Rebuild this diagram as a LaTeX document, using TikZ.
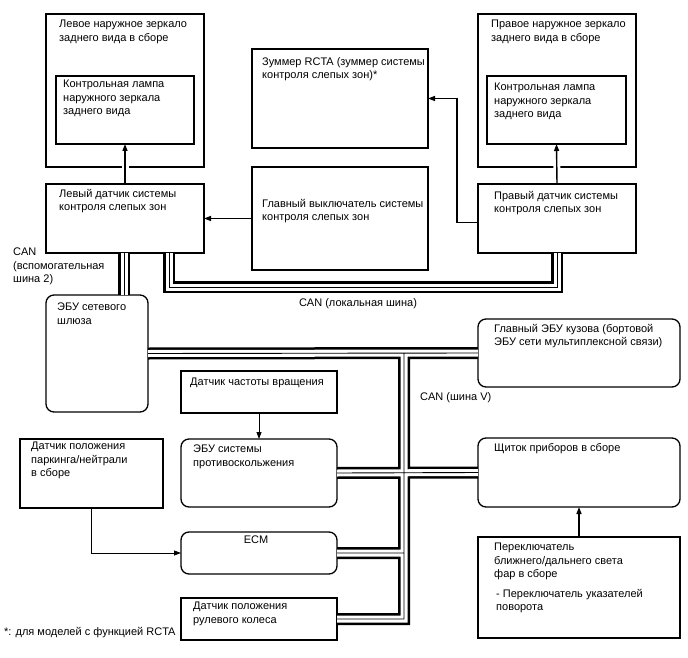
\documentclass[tikz,border=0pt]{standalone}
\usepackage{fontspec}
\setmainfont{Liberation Sans}
\usepackage{tikz}
\usetikzlibrary{arrows.meta,positioning,calc}
\tikzset{
    blk/.style={draw=black,line width=1.3pt,anchor=north west,inner sep=0pt,outer sep=0pt},
    rblk/.style={blk,rounded corners=8pt},
    txt/.style={anchor=north west,inner sep=0pt,align=left},
    sigarrow/.style={-{Triangle[length=7pt,width=5pt]},line width=1.4pt},
    thinarrow/.style={-{Triangle[length=7pt,width=5pt]},line width=0.8pt},
    gapped/.style={preaction={draw=white,-,line width=7pt,shorten <=4pt,shorten >=12pt}},
    canbus/.style={line width=0.9pt,preaction={draw,line width=12pt},
      preaction={draw=white,line width=7pt}}
}

\begin{document}
\begin{tikzpicture}[x=1pt,y=-1pt,font=\fontsize{11}{13.3}\selectfont]
  \useasboundingbox (0,0) rectangle (688,658);

  % top row
  \node[blk,minimum width=158,minimum height=153] (lmirror) at (46,14) {};
  \node[blk,minimum width=138,minimum height=68] (llamp) at (56,76) {};
  \node[blk,minimum width=158,minimum height=69] (lsensor) at (46,184) {};
  \node[blk,minimum width=176,minimum height=99] (buzzer) at (252,49) {};
  \node[blk,minimum width=176,minimum height=103] (switch) at (252,167) {};
  \node[blk,minimum width=158,minimum height=153] (rmirror) at (478,14) {};
  \node[blk,minimum width=139,minimum height=68] (rlamp) at (487,76) {};
  \node[blk,minimum width=158,minimum height=69] (rsensor) at (478,184) {};

  \node[txt] (lmirror-t) at (59,20) {Левое наружное зеркало\\заднего вида в сборе};
  \node[txt] (llamp-t) at (63,80) {Контрольная лампа\\наружного зеркала\\заднего вида};
  \node[txt] (lsensor-t) at (59,189) {Левый датчик системы\\контроля слепых зон};
  \node[txt] (buzzer-t) at (262,57) {Зуммер RCTA (зуммер системы\\контроля слепых зон)*};
  \node[txt] (switch-t) at (262,199) {Главный выключатель системы\\контроля слепых зон};
  \node[txt] (rmirror-t) at (491,20) {Правое наружное зеркало\\заднего вида в сборе};
  \node[txt] (rlamp-t) at (494,83) {Контрольная лампа\\наружного зеркала\\заднего вида};
  \node[txt] (rsensor-t) at (494,191) {Правый датчик системы\\контроля слепых зон};

  % lower part
  \node[rblk,minimum width=102,minimum height=117] (gateway) at (46,295) {};
  \node[rblk,minimum width=202,minimum height=68] (body) at (478,319) {};
  \node[blk,minimum width=156,minimum height=42] (speed) at (181,371) {};
  \node[rblk,minimum width=156,minimum height=68] (vsc) at (181,439) {};
  \node[rblk,minimum width=156,minimum height=42] (ecm) at (181,532) {};
  \node[blk,minimum width=156,minimum height=42] (steer) at (181,598) {};
  \node[blk,minimum width=143,minimum height=69] (park) at (20,439) {};
  \node[rblk,minimum width=202,minimum height=69] (cluster) at (478,438) {};
  \node[blk,minimum width=202,minimum height=101] (hlswitch) at (478,537) {};

  \node[txt] (gateway-t) at (57,303) {ЭБУ сетевого\\шлюза};
  \node[txt] (body-t) at (494,324) {Главный ЭБУ кузова (бортовой\\ЭБУ сети мультиплексной связи)};
  \node[txt] (speed-t) at (190,378) {Датчик частоты вращения};
  \node[txt] (vsc-t) at (193,445) {ЭБУ системы\\противоскольжения};
  \node[anchor=north,inner sep=0pt] (ecm-t) at (256,536) {ECM};
  \node[txt] (steer-t) at (193,602) {Датчик положения\\рулевого колеса};
  \node[txt] (park-t) at (31,442) {Датчик положения\\паркинга/нейтрали\\в сборе};
  \node[txt] (cluster-t) at (494,443) {Щиток приборов в сборе};
  \node[txt] (hlswitch-t) at (494,543) {Переключатель\\ближнего/дальнего света\\фар в сборе};
  \node[txt] (turn-t) at (496,589) {- Переключатель указателей\\поворота};

  \node[txt] (canaux) at (13,248) {CAN\\(вспомогательная\\шина 2)};
  \node[anchor=north,inner sep=0pt] (canloc) at (358,298) {CAN (локальная шина)};
  \node[txt] (canv) at (420,392) {CAN (шина V)};
  \node[txt] (note) at (4,627) {*: для моделей с функцией RCTA};

  % signal lines
  \draw[sigarrow,gapped] (lsensor.north) -- (llamp.south);
  \draw[sigarrow,gapped] (rsensor.north) -- (rlamp.south);
  \draw[sigarrow] (switch.west) -- (switch.west -| lsensor.east);
  \draw[sigarrow] ([yshift=-4pt]rsensor.west) -- ++(-21,0) |- (buzzer.east);
  \draw[thinarrow] (speed.south) -- (vsc.north);
  \draw[thinarrow] (park.south) |- (ecm.west);
  \draw[sigarrow] (hlswitch.north) -- (cluster.south);

  % CAN buses
  \coordinate (loc-l) at ([xshift=44pt]lsensor.south);
  \coordinate (tv) at (404,353);
  \draw[canbus] ([xshift=-1pt]lsensor.south) -- ([xshift=-1pt]lsensor.south |- gateway.north);
  \draw[canbus] (loc-l) -- ++(0,34) -| (rsensor.south);
  \draw[canbus] (gateway.east) -- (body.west)
    (vsc.east) -- (cluster.west)
    (ecm.east) -- (ecm.east -| tv)
    (tv) |- (steer.east);
\end{tikzpicture}
\end{document}
